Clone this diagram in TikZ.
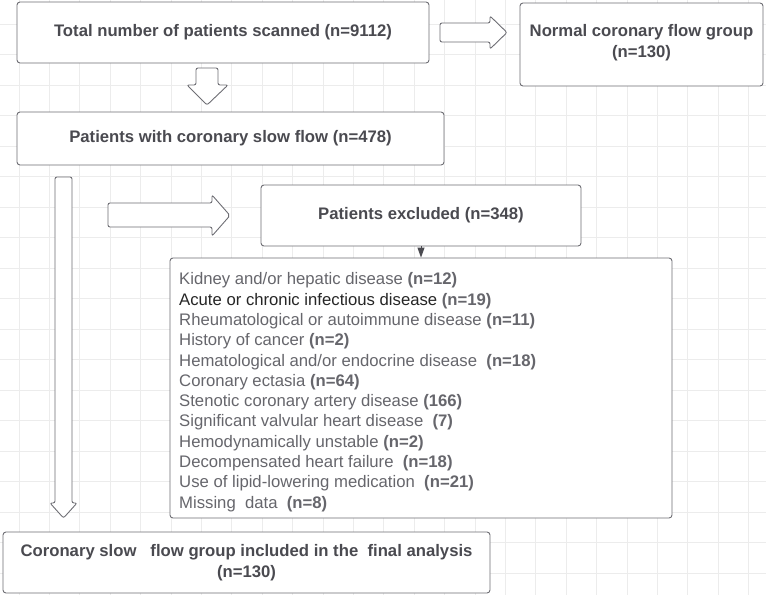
\documentclass[tikz,border=0pt]{standalone}
\usepackage{fontspec}
\setmainfont{Liberation Sans}
\usetikzlibrary{arrows.meta}
\definecolor{headgray}{HTML}{4A4A50}
\definecolor{listgray}{HTML}{66666C}
\definecolor{boxgray}{HTML}{6E6E74}
\definecolor{gridgray}{HTML}{ECECEC}
\tikzset{
  flowbox/.style={draw=boxgray, line width=0.9pt, rounded corners=3pt, fill=white,
    align=center, text=headgray, inner sep=0pt,
    font=\bfseries\fontsize{16.7}{21}\selectfont},
  blockarrow/.style={draw=boxgray, line width=0.9pt, rounded corners=2pt, fill=white},
  gridline/.style={draw=gridgray, line width=0.8pt}
}
\begin{document}
\begin{tikzpicture}[x=1pt,y=-1pt]
    \useasboundingbox (0,0) rectangle (766,595);
    \fill [white] (0,0) rectangle (766,595);
    % background grid
    \foreach \i in {0,...,24}
        \draw [gridline] ({19+30.4*\i},0) -- ({19+30.4*\i},595);
    \foreach \j in {0,...,18}
        \draw [gridline] (0,{24+30.5*\j}) -- (766,{24+30.5*\j});
    % boxes
    \node [flowbox, minimum width=412pt, minimum height=61pt] (scanned) at (223,32.5)
        {Total number of patients scanned (n=9112)};
    \node [flowbox, minimum width=243pt, minimum height=83pt, text depth=7pt] (normal) at (641.5,44.5)
        {Normal coronary flow group\\(n=130)};
    \node [flowbox, minimum width=427pt, minimum height=53pt] (slowflow) at (230.5,138.5)
        {Patients with coronary slow flow (n=478)};
    \node [flowbox, minimum width=320pt, minimum height=61pt] (excluded) at (421,215.5)
        {Patients excluded (n=348)};
    \node [flowbox, minimum width=502pt, minimum height=260pt] (excllist) at (421,388) {};
    \node [anchor=north west, inner sep=0pt, align=left, text=listgray,
        font=\fontsize{16.7}{20.3}\selectfont] (reasons) at (179,272.5)
        {Kidney and/or hepatic disease \textbf{(n=12)}\\
         {\color{black!85}Acute or chronic infectious disease} \textbf{(n=19)}\\
         Rheumatological or autoimmune disease \textbf{(n=11)}\\
         History of cancer \textbf{(n=2)}\\
         Hematological and/or endocrine disease\ \ \textbf{(n=18)}\\
         Coronary ectasia \textbf{(n=64)}\\
         Stenotic coronary artery disease \textbf{(166)}\\
         Significant valvular heart disease\ \ \textbf{(7)}\\
         Hemodynamically unstable \textbf{(n=2)}\\
         Decompensated heart failure\ \ \textbf{(n=18)}\\
         Use of lipid-lowering medication\ \ \textbf{(n=21)}\\
         Missing\ \ data\ \ \textbf{(n=8)}};
    \node [flowbox, minimum width=487pt, minimum height=61pt] (final) at (246.5,562.5)
        {Coronary slow\ \ \ flow group included in the\ \ final analysis\\(n=130)};
    % block arrows
    \draw [blockarrow] (440,23) -- (490,23) -- (490,16) -- (507,32.5) -- (490,49)
        -- (490,42) -- (440,42) -- cycle;
    \draw [blockarrow] (196,68) -- (218,68) -- (218,85) -- (228,85) -- (207,105)
        -- (187,85) -- (196,85) -- cycle;
    \draw [blockarrow] (108,203) -- (212,203) -- (212,195) -- (230,215.5) -- (212,236)
        -- (212,227) -- (108,227) -- cycle;
    \draw [blockarrow] (55,177) -- (72,177) -- (72,503) -- (77,503) -- (63.5,518)
        -- (50,503) -- (55,503) -- cycle;
    \draw [-{Triangle[width=7pt,length=10pt]}, line width=0.9pt, draw=headgray]
        (excluded.south) -- (excllist.north);
\end{tikzpicture}
\end{document}
